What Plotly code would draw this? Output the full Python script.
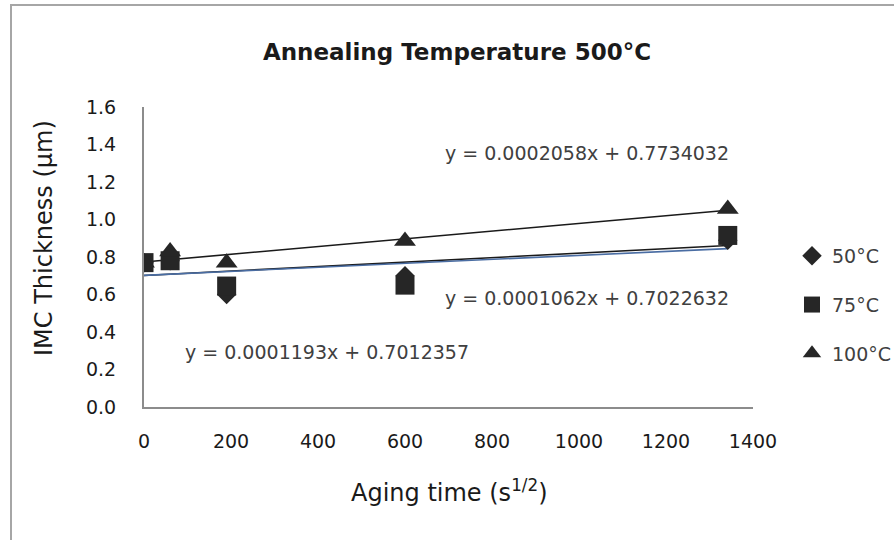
import plotly.graph_objects as go

# ---- data ----
aging_time = [0, 60, 190, 600, 1342]
thk_50 = [0.77, 0.78, 0.60, 0.70, 0.89]
thk_75 = [0.77, 0.78, 0.645, 0.65, 0.915]
thk_100 = [0.77, 0.83, 0.77, 0.885, 1.056]
series_names = ["50°C", "75°C", "100°C"]
trend_slopes = [0.0001193, 0.0001062, 0.0002058]
trend_intercepts = [0.7012357, 0.7022632, 0.7734032]
x_ticks = [0, 200, 400, 600, 800, 1000, 1200, 1400]
y_ticks = [0.0, 0.2, 0.4, 0.6, 0.8, 1.0, 1.2, 1.4, 1.6]

W, H = 894, 540
L, R, T, B = 144, 141, 107, 133
FONT = "DejaVu Sans"
MARK = "#262626"
TXT = "#404040"
DARK = "#1a1a1a"

fig = go.Figure()

# trendlines (from stated equations over data range)
trend_colors = ["#1a1a1a", "#4a6da3", "#1a1a1a"]
xmin, xmax = min(aging_time), max(aging_time)
for s, b, c in zip(trend_slopes, trend_intercepts, trend_colors):
    fig.add_trace(go.Scatter(x=[xmin, xmax], y=[s * xmin + b, s * xmax + b],
                             mode="lines", line=dict(color=c, width=1.6),
                             showlegend=False, hoverinfo="skip"))

symbols = ["diamond", "square", "triangle-up"]
sizes = [15, 19, 19]
for i, (name, ys) in enumerate(zip(series_names, [thk_50, thk_75, thk_100])):
    fig.add_trace(go.Scatter(x=aging_time, y=ys, mode="markers", name=name,
                             legendgroup=name,
                             marker=dict(symbol=symbols[i], size=sizes[i], color=MARK,
                                         line=dict(width=0))))

# equation labels
eq_pos = [(90, 0.293), (687, 0.581), (687, 1.355)]
for (ex, ey), s, b in zip(eq_pos, trend_slopes, trend_intercepts):
    fig.add_annotation(x=ex, y=ey, xref="x", yref="y", xanchor="left", yanchor="middle",
                       text=f"y = {s:.7f}x + {b:.7f}", showarrow=False,
                       font=dict(family=FONT, size=19, color=TXT))

pw, ph = W - L - R, H - T - B
# axis titles
fig.add_annotation(x=(449 - L) / pw, y=(H - B - 491) / ph, xref="paper", yref="paper",
                   text="Aging time (s<sup>1/2</sup>)", showarrow=False,
                   xanchor="center", yanchor="middle",
                   font=dict(family=FONT, size=24, color=DARK))
fig.add_annotation(x=(44 - L) / pw, y=(H - B - 238) / ph, xref="paper", yref="paper",
                   text="IMC Thickness (µm)", textangle=-90, showarrow=False,
                   xanchor="center", yanchor="middle",
                   font=dict(family=FONT, size=24, color=DARK))

# outer chart border (left and top edges visible)
fig.add_shape(type="path", xref="paper", yref="paper",
              path=f"M {(11 - L) / pw} {(H - B - 545) / ph} L {(11 - L) / pw} {(H - B - 5) / ph} L {(900 - L) / pw} {(H - B - 5) / ph}",
              line=dict(color="#a6a6a6", width=2))

fig.update_layout(
    width=W, height=H,
    margin=dict(l=L, r=R, t=T, b=B),
    paper_bgcolor="white", plot_bgcolor="white",
    title=dict(text="<b>Annealing Temperature 500°C</b>", x=457 / W, xref="container",
               y=1 - 52 / H, yref="container", xanchor="center", yanchor="middle",
               font=dict(family=FONT, size=23, color=DARK)),
    showlegend=True,
    legend=dict(x=792 / W, y=1 - 237 / H, xref="container", yref="container",
                xanchor="left", yanchor="top", tracegroupgap=21,
                font=dict(family=FONT, size=19, color=TXT), bgcolor="rgba(0,0,0,0)",
                itemsizing="trace"),
    xaxis=dict(range=[0, 1400], tickvals=x_ticks, ticktext=[str(v) for v in x_ticks],
               showgrid=False, zeroline=False, showline=True, linecolor="#8c8c8c",
               linewidth=2, ticks="", ticklabelstandoff=16,
               tickfont=dict(family=FONT, size=19, color=DARK)),
    yaxis=dict(range=[0, 1.6], tickvals=y_ticks, ticktext=[f"{v:.1f}" for v in y_ticks],
               showgrid=False, zeroline=False, showline=True, linecolor="#8c8c8c",
               linewidth=2, ticks="", ticklabelstandoff=22,
               tickfont=dict(family=FONT, size=19, color=DARK)),
)

fig.write_html("out.html")
